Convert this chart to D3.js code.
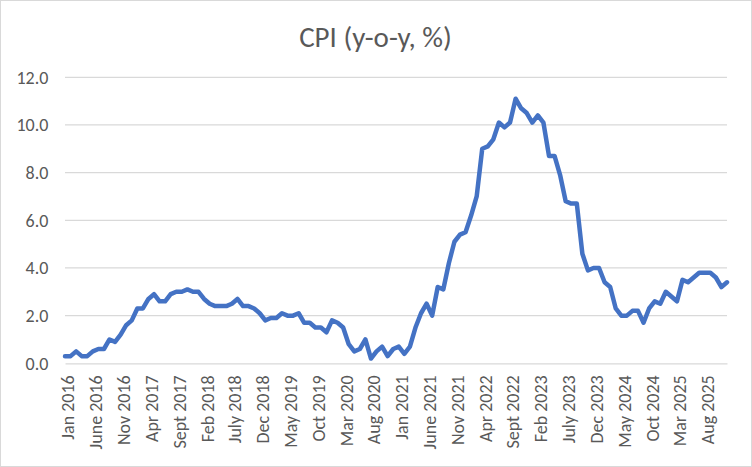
<!DOCTYPE html>
<html>
<head>
<meta charset="utf-8">
<script src="https://cdn.jsdelivr.net/npm/d3@7"></script>
<style>
  html, body { margin: 0; padding: 0; background: #fff; }
  svg { display: block; }
  text { font-family: Carlito, Calibri, Lato, "Open Sans", sans-serif; fill: #595959; }
</style>
</head>
<body>
<svg id="chart" width="752" height="467"></svg>
<script>
// ---- data ----
const years = [2016, 2017, 2018, 2019, 2020, 2021, 2022, 2023, 2024, 2025];
const monthNames = ["Jan", "Feb", "Mar", "Apr", "May", "June", "July", "Aug", "Sept", "Oct", "Nov", "Dec"];
const cpi2016 = [0.3, 0.3, 0.5, 0.3, 0.3, 0.5, 0.6, 0.6, 1.0, 0.9, 1.2, 1.6];
const cpi2017 = [1.8, 2.3, 2.3, 2.7, 2.9, 2.6, 2.6, 2.9, 3.0, 3.0, 3.1, 3.0];
const cpi2018 = [3.0, 2.7, 2.5, 2.4, 2.4, 2.4, 2.5, 2.7, 2.4, 2.4, 2.3, 2.1];
const cpi2019 = [1.8, 1.9, 1.9, 2.1, 2.0, 2.0, 2.1, 1.7, 1.7, 1.5, 1.5, 1.3];
const cpi2020 = [1.8, 1.7, 1.5, 0.8, 0.5, 0.6, 1.0, 0.2, 0.5, 0.7, 0.3, 0.6];
const cpi2021 = [0.7, 0.4, 0.7, 1.5, 2.1, 2.5, 2.0, 3.2, 3.1, 4.2, 5.1, 5.4];
const cpi2022 = [5.5, 6.2, 7.0, 9.0, 9.1, 9.4, 10.1, 9.9, 10.1, 11.1, 10.7, 10.5];
const cpi2023 = [10.1, 10.4, 10.1, 8.7, 8.7, 7.9, 6.8, 6.7, 6.7, 4.6, 3.9, 4.0];
const cpi2024 = [4.0, 3.4, 3.2, 2.3, 2.0, 2.0, 2.2, 2.2, 1.7, 2.3, 2.6, 2.5];
const cpi2025 = [3.0, 2.8, 2.6, 3.5, 3.4, 3.6, 3.8, 3.8, 3.8, 3.6, 3.2, 3.4];
const yTicks = [0, 2, 4, 6, 8, 10, 12];
const labelEvery = 5;
const title = "CPI (y-o-y, %)";

const categories = [];
years.forEach(y => monthNames.forEach(m => categories.push(m + " " + y)));
const values = [].concat(cpi2016, cpi2017, cpi2018, cpi2019, cpi2020, cpi2021, cpi2022, cpi2023, cpi2024, cpi2025);
const data = categories.map((c, i) => ({ cat: c, v: values[i] }));
const tickLabels = categories.filter((c, i) => i % labelEvery === 0);

// ---- layout ----
const svg = d3.select("#chart");
const W = 752, H = 467;
const plot = { left: 65, right: 727, top: 77.3, bottom: 363.3 };

svg.append("rect").attr("x", 0.5).attr("y", 0.5).attr("width", W - 1).attr("height", H - 1)
  .attr("fill", "#fff").attr("stroke", "#d9d9d9");

const x = d3.scalePoint().domain(categories).range([plot.left, plot.right]).padding(0);
const y = d3.scaleLinear().domain([0, 12]).range([plot.bottom, plot.top]);

// gridlines
svg.append("g").selectAll("line").data(yTicks.filter(t => t > 0)).join("line")
  .attr("x1", plot.left).attr("x2", plot.right)
  .attr("y1", d => y(d)).attr("y2", d => y(d))
  .attr("stroke", "#d9d9d9").attr("stroke-width", 1.2);

// y axis labels
const yAxis = d3.axisLeft(y).tickValues(yTicks).tickFormat(d3.format(".1f")).tickSize(0).tickPadding(16.7);
const gy = svg.append("g").attr("transform", `translate(${plot.left},0)`).call(yAxis);
gy.select(".domain").remove();
gy.selectAll("text").style("font-size", "18px").attr("fill", "#595959");

// x axis
const xAxis = d3.axisBottom(x).tickValues(tickLabels).tickSize(0).tickPadding(0);
const gx = svg.append("g").attr("transform", `translate(0,${plot.bottom})`).call(xAxis);
gx.select(".domain").attr("stroke", "#d9d9d9").attr("stroke-width", 1.2);
gx.selectAll("text")
  .style("font-size", "18px").attr("fill", "#595959")
  .attr("text-anchor", "end")
  .attr("dy", "0.33em")
  .attr("transform", "translate(3,12) rotate(-90)")
  .attr("x", 0).attr("y", 0);

// line
const line = d3.line().x(d => x(d.cat)).y(d => y(d.v));
svg.append("path").datum(data)
  .attr("d", line)
  .attr("fill", "none")
  .attr("stroke", "#4472C4")
  .attr("stroke-width", 4.5)
  .attr("stroke-linejoin", "round")
  .attr("stroke-linecap", "round");

// title
svg.append("text").attr("x", 375.5).attr("y", 47)
  .attr("text-anchor", "middle").style("font-size", "29px").attr("fill", "#595959")
  .text(title);
</script>
</body>
</html>
